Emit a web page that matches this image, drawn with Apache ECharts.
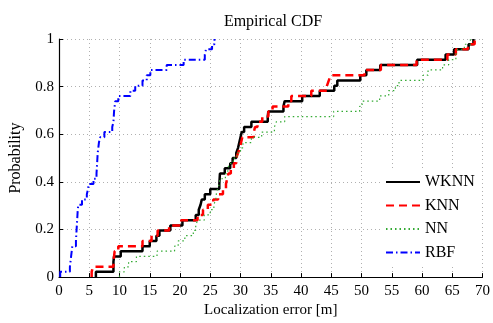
<!DOCTYPE html>
<html>
<head>
<meta charset="utf-8">
<script src="https://cdn.jsdelivr.net/npm/echarts@6/dist/echarts.min.js"></script>
<style>html,body{margin:0;padding:0;background:#fff;}#c{width:493px;height:323px;}</style>
</head>
<body>
<div id="c"></div>
<script>
const seriesNames = ['WKNN', 'KNN', 'NN', 'RBF'];
const xTicks = [0, 5, 10, 15, 20, 25, 30, 35, 40, 45, 50, 55, 60, 65, 70];
const yTicks = [0, 0.2, 0.4, 0.6, 0.8, 1];

const wknn = [[6.1,0],[6.1,0.022],[9.0,0.065],[9.1,0.087],[10.2,0.109],[13.8,0.130],[15.0,0.152],[16.1,0.174],[16.6,0.196],[18.4,0.217],[20.4,0.239],[22.6,0.261],[23.1,0.283],[23.4,0.304],[23.6,0.326],[24.1,0.348],[25.0,0.370],[26.5,0.391],[26.6,0.435],[27.4,0.457],[28.3,0.478],[28.7,0.500],[29.3,0.522],[29.6,0.543],[29.8,0.565],[30.0,0.587],[30.2,0.609],[30.6,0.630],[31.8,0.652],[34.5,0.674],[34.6,0.696],[37.1,0.717],[37.3,0.739],[40.2,0.761],[43.1,0.783],[45.5,0.804],[46.0,0.826],[49.8,0.848],[50.8,0.870],[53.1,0.891],[59.2,0.913],[63.9,0.935],[65.3,0.957],[67.7,0.978],[68.5,1.0]];

const knn = [[5.4,0],[5.4,0.022],[5.6,0.043],[9.0,0.065],[9.2,0.109],[9.8,0.130],[13.8,0.152],[15.3,0.174],[16.3,0.196],[18.2,0.217],[20.2,0.239],[22.9,0.261],[23.8,0.283],[24.6,0.304],[25.5,0.326],[26.3,0.348],[27.1,0.370],[27.6,0.391],[27.8,0.413],[28.0,0.435],[28.4,0.457],[28.9,0.478],[29.3,0.500],[29.6,0.522],[29.9,0.543],[30.1,0.565],[30.3,0.587],[32.2,0.609],[32.4,0.630],[32.8,0.652],[33.6,0.674],[34.6,0.696],[35.3,0.717],[37.9,0.739],[38.4,0.761],[41.7,0.783],[44.3,0.804],[44.6,0.826],[44.9,0.848],[50.5,0.870],[53.2,0.891],[59.1,0.913],[64.2,0.935],[65.6,0.957],[67.6,0.978],[68.7,1.0]];

const nn = [[10.0,0],[10.0,0.022],[10.8,0.043],[11.5,0.065],[12.8,0.087],[16.2,0.109],[19.1,0.130],[19.7,0.152],[20.8,0.174],[22.2,0.196],[22.6,0.217],[22.9,0.239],[24.0,0.261],[25.0,0.283],[25.6,0.304],[25.9,0.326],[26.0,0.348],[26.2,0.370],[26.5,0.391],[26.6,0.413],[27.5,0.435],[27.9,0.457],[28.2,0.478],[28.8,0.500],[29.4,0.522],[30.0,0.543],[30.4,0.565],[31.8,0.587],[33.5,0.609],[35.6,0.630],[35.9,0.652],[37.3,0.674],[45.4,0.696],[49.7,0.717],[50.1,0.739],[53.0,0.761],[54.5,0.783],[55.6,0.804],[56.2,0.826],[60.2,0.848],[61.0,0.870],[63.4,0.891],[64.4,0.913],[65.6,0.935],[65.9,0.957],[67.0,0.978],[68.0,1.0]];

const rbf = [[0.2,0],[0.2,0.022],[1.8,0.043],[2.0,0.087],[2.2,0.130],[2.8,0.152],[2.9,0.196],[3.0,0.239],[3.1,0.283],[3.2,0.304],[3.8,0.326],[4.6,0.348],[4.8,0.370],[4.9,0.391],[5.7,0.413],[6.2,0.435],[6.3,0.478],[6.4,0.522],[6.5,0.543],[6.6,0.565],[6.8,0.587],[7.5,0.609],[8.8,0.630],[9.0,0.652],[9.1,0.696],[9.3,0.739],[9.8,0.761],[11.8,0.783],[12.6,0.804],[13.8,0.826],[14.5,0.848],[15.1,0.870],[17.8,0.891],[20.6,0.913],[24.1,0.935],[24.3,0.957],[25.3,0.978],[25.7,1.0]];

const font = "'Liberation Serif', 'Times New Roman', serif";
const chart = echarts.init(document.getElementById('c'), null, {renderer: 'canvas'});

const gridLine = {show: true, lineStyle: {color: '#b0b0b0', type: [1, 3], width: 1}};

chart.setOption({
  animation: false,
  backgroundColor: '#fff',
  title: {
    text: 'Empirical CDF', left: 268, top: 9, textAlign: 'center',
    textStyle: {fontFamily: font, fontSize: 16, fontWeight: 'normal', color: '#000'}
  },
  grid: {left: 52, right: 9, top: 39, bottom: 41},
  legend: {
    data: seriesNames,
    orient: 'vertical',
    left: 380, top: 170,
    itemWidth: 34, itemHeight: 16, itemGap: 7.5,
    itemStyle: {opacity: 0, borderWidth: 0},
    backgroundColor: '#fff',
    padding: [4, 6, 4, 5],
    textStyle: {fontFamily: font, fontSize: 16, color: '#000'}
  },
  xAxis: {
    type: 'value', min: xTicks[0], max: xTicks[xTicks.length - 1], interval: 5,
    name: 'Localization error [m]', nameLocation: 'middle', nameGap: 24,
    nameTextStyle: {fontFamily: font, fontSize: 15, color: '#000'},
    axisLine: {show: true, onZero: false, lineStyle: {color: '#000', width: 1.2}},
    axisTick: {show: true, inside: true, length: 4, lineStyle: {color: '#000'}},
    axisLabel: {fontFamily: font, fontSize: 15, color: '#000', margin: 6},
    splitLine: gridLine
  },
  yAxis: {
    type: 'value', min: yTicks[0], max: yTicks[yTicks.length - 1], interval: 0.2,
    name: 'Probability', nameLocation: 'middle', nameGap: 35,
    nameTextStyle: {fontFamily: font, fontSize: 16, color: '#000'},
    axisLine: {show: true, onZero: false, lineStyle: {color: '#000', width: 1.2}},
    axisTick: {show: true, inside: true, length: 4, lineStyle: {color: '#000'}},
    axisLabel: {fontFamily: font, fontSize: 15, color: '#000', margin: 5},
    splitLine: gridLine
  },
  series: [
    {name: seriesNames[0], type: 'line', step: 'end', data: wknn, symbol: 'none', showSymbol: false,
     itemStyle: {color: '#000'}, lineStyle: {color: '#000', width: 2.5, type: 'solid'}},
    {name: seriesNames[1], type: 'line', step: 'end', data: knn, symbol: 'none', showSymbol: false,
     itemStyle: {color: '#ff0000'}, lineStyle: {color: '#ff0000', width: 2.5, type: [8, 5]}},
    {name: seriesNames[2], type: 'line', step: 'end', data: nn, symbol: 'none', showSymbol: false,
     itemStyle: {color: '#33aa33'}, lineStyle: {color: '#33aa33', width: 1.2, type: [1.5, 3]}},
    {name: seriesNames[3], type: 'line', step: 'end', data: rbf, symbol: 'none', showSymbol: false,
     itemStyle: {color: '#0000ff'}, lineStyle: {color: '#0000ff', width: 2, type: [7, 3, 1.5, 3]}}
  ]
});
</script>
</body>
</html>
